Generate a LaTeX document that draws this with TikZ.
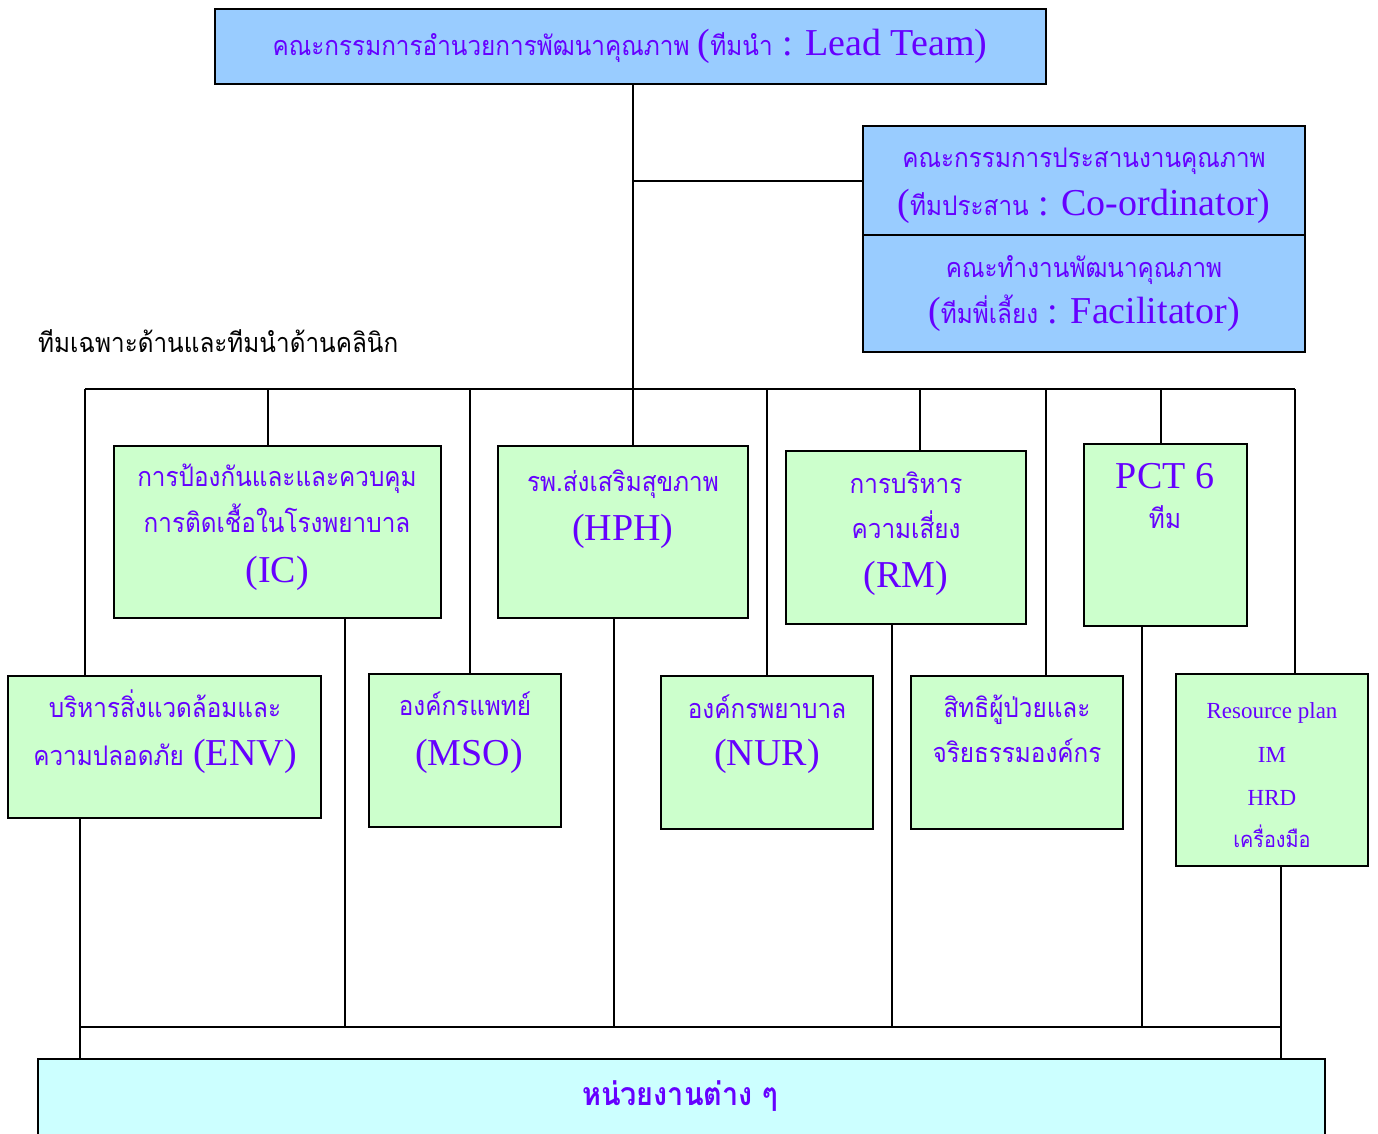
\documentclass[tikz,border=0pt]{standalone}
\usepackage{fontspec}
\setmainfont{Liberation Serif}
\newfontfamily\thai[Script=Thai, FakeStretch=0.9]{Loma}
\definecolor{txtviolet}{HTML}{6600FF}
\definecolor{leadblue}{HTML}{99CCFF}
\definecolor{teamgreen}{HTML}{CCFFCC}
\definecolor{unitcyan}{HTML}{CCFFFF}
\newcommand{\bigla}[1]{{\rmfamily\fontsize{38}{42}\selectfont #1}}

\tikzset{
  box/.style={draw, line width=2pt, rectangle, anchor=north west, inner sep=0pt, outer sep=0pt},
  bluebox/.style={box, fill=leadblue},
  greenbox/.style={box, fill=teamgreen},
  cyanbox/.style={box, fill=unitcyan},
  th/.style={text=txtviolet, font=\thai\fontsize{27}{31}\selectfont, anchor=base, inner sep=0pt},
  la/.style={text=txtviolet, font=\rmfamily\fontsize{38}{42}\selectfont, anchor=base, inner sep=0pt},
  sm/.style={text=txtviolet, font=\rmfamily\fontsize{23}{27}\selectfont, anchor=base, inner sep=0pt},
  wire/.style={line width=2pt}
}

\begin{document}
\begin{tikzpicture}[x=1pt, y=-1pt]
\useasboundingbox (0,0) rectangle (1378,1133);

% bus lines
\coordinate (busL) at (85,389);
\coordinate (busR) at (1295,389);
\coordinate (hub) at (633,389);
\coordinate (t2) at (268,389);
\coordinate (t3) at (470,389);
\coordinate (t5) at (767,389);
\coordinate (t6) at (920,389);
\coordinate (t7) at (1046,389);
\coordinate (t8) at (1161,389);
\coordinate (b1) at (80,1027);
\coordinate (b2) at (345,1027);
\coordinate (b3) at (614,1027);
\coordinate (b4) at (892,1027);
\coordinate (b5) at (1142,1027);
\coordinate (b6) at (1281,1027);

% top
\node[bluebox, minimum width=831, minimum height=75] (lead) at (215,9) {};
\node[bluebox, minimum width=442, minimum height=109] (coord) at (863,126) {};
\node[bluebox, minimum width=442, minimum height=117] (facil) at (863,235) {};

\node[th] (leadtxt) at (630,55) {คณะกรรมการอำนวยการพัฒนาคุณภาพ \bigla{(}ทีมนำ\bigla{ : Lead Team)}};
\node[th] (coord1) at (1084,167) {คณะกรรมการประสานงานคุณภาพ};
\node[th] (coord2) at (1084,215) {\bigla{(}ทีมประสาน\bigla{ : Co-ordinator)}};
\node[th] (facil1) at (1084,277) {คณะทำงานพัฒนาคุณภาพ};
\node[th] (facil2) at (1084,323) {\bigla{(}ทีมพี่เลี้ยง\bigla{ : Facilitator)}};

\node[th, text=black, anchor=base west] (teamlabel) at (38,352) {ทีมเฉพาะด้านและทีมนำด้านคลินิก};

% teams
\node[greenbox, minimum width=327, minimum height=172] (ic) at (114,446) {};
\node[greenbox, minimum width=250, minimum height=172] (hph) at (498,446) {};
\node[greenbox, minimum width=240, minimum height=173] (rm) at (786,451) {};
\node[greenbox, minimum width=163, minimum height=182] (pct) at (1084,444) {};
\node[greenbox, minimum width=313, minimum height=142] (env) at (8,676) {};
\node[greenbox, minimum width=192, minimum height=153] (mso) at (369,674) {};
\node[greenbox, minimum width=212, minimum height=153] (nur) at (661,676) {};
\node[greenbox, minimum width=212, minimum height=153] (rights) at (911,676) {};
\node[greenbox, minimum width=192, minimum height=192] (res) at (1176,674) {};
\node[cyanbox, minimum width=1287, minimum height=120] (units) at (38,1059) {};

\node[th] (ic1) at (277,486) {การป้องกันและและควบคุม};
\node[th] (ic2) at (277,532) {การติดเชื้อในโรงพยาบาล};
\node[la] (ic3) at (277,582) {(IC)};
\node[th] (hph1) at (623,491) {รพ.ส่งเสริมสุขภาพ};
\node[la] (hph2) at (623,540) {(HPH)};
\node[th] (rm1) at (906,493) {การบริหาร};
\node[th] (rm2) at (906,538) {ความเสี่ยง};
\node[la] (rm3) at (906,587) {(RM)};
\node[la] (pct1) at (1165,488) {PCT 6};
\node[th] (pct2) at (1165,528) {ทีม};
\node[th] (env1) at (165,717) {บริหารสิ่งแวดล้อมและ};
\node[th] (env2) at (165,765) {ความปลอดภัย\bigla{ (ENV)}};
\node[th] (mso1) at (465,715) {องค์กรแพทย์};
\node[la] (mso2) at (469,765) {(MSO)};
\node[th] (nur1) at (767,718) {องค์กรพยาบาล};
\node[la] (nur2) at (767,765) {(NUR)};
\node[th] (rights1) at (1017,717) {สิทธิผู้ป่วยและ};
\node[th] (rights2) at (1017,762) {จริยธรรมองค์กร};
\node[sm] (res1) at (1272,718) {Resource plan};
\node[sm] (res2) at (1272,762) {IM};
\node[sm] (res3) at (1272,805) {HRD};
\node[th, font=\thai\fontsize{22}{26}\selectfont] (res4) at (1272,847) {เครื่องมือ};
\node[th, font=\thai\bfseries\fontsize{32}{36}\selectfont] (unitstxt) at (680,1105) {หน่วยงานต่าง ๆ};

% connectors
\draw[wire] (busL) -- (busR);
\draw[wire] (lead.south -| hub) -- (hub);
\draw[wire] (coord.west) -- (coord.west -| hub);
\draw[wire] (busL) -- (busL |- env.north);
\draw[wire] (t2) -- (t2 |- ic.north);
\draw[wire] (t3) -- (t3 |- mso.north);
\draw[wire] (hub) -- (hub |- hph.north);
\draw[wire] (t5) -- (t5 |- nur.north);
\draw[wire] (t6) -- (t6 |- rm.north);
\draw[wire] (t7) -- (t7 |- rights.north);
\draw[wire] (t8) -- (t8 |- pct.north);
\draw[wire] (busR) -- (busR |- res.north);

\draw[wire] (b1) -- (b6);
\draw[wire] (b1 |- env.south) -- (b1 |- units.north);
\draw[wire] (b2 |- ic.south) -- (b2);
\draw[wire] (b3 |- hph.south) -- (b3);
\draw[wire] (b4 |- rm.south) -- (b4);
\draw[wire] (b5 |- pct.south) -- (b5);
\draw[wire] (b6 |- res.south) -- (b6 |- units.north);
\end{tikzpicture}
\end{document}
